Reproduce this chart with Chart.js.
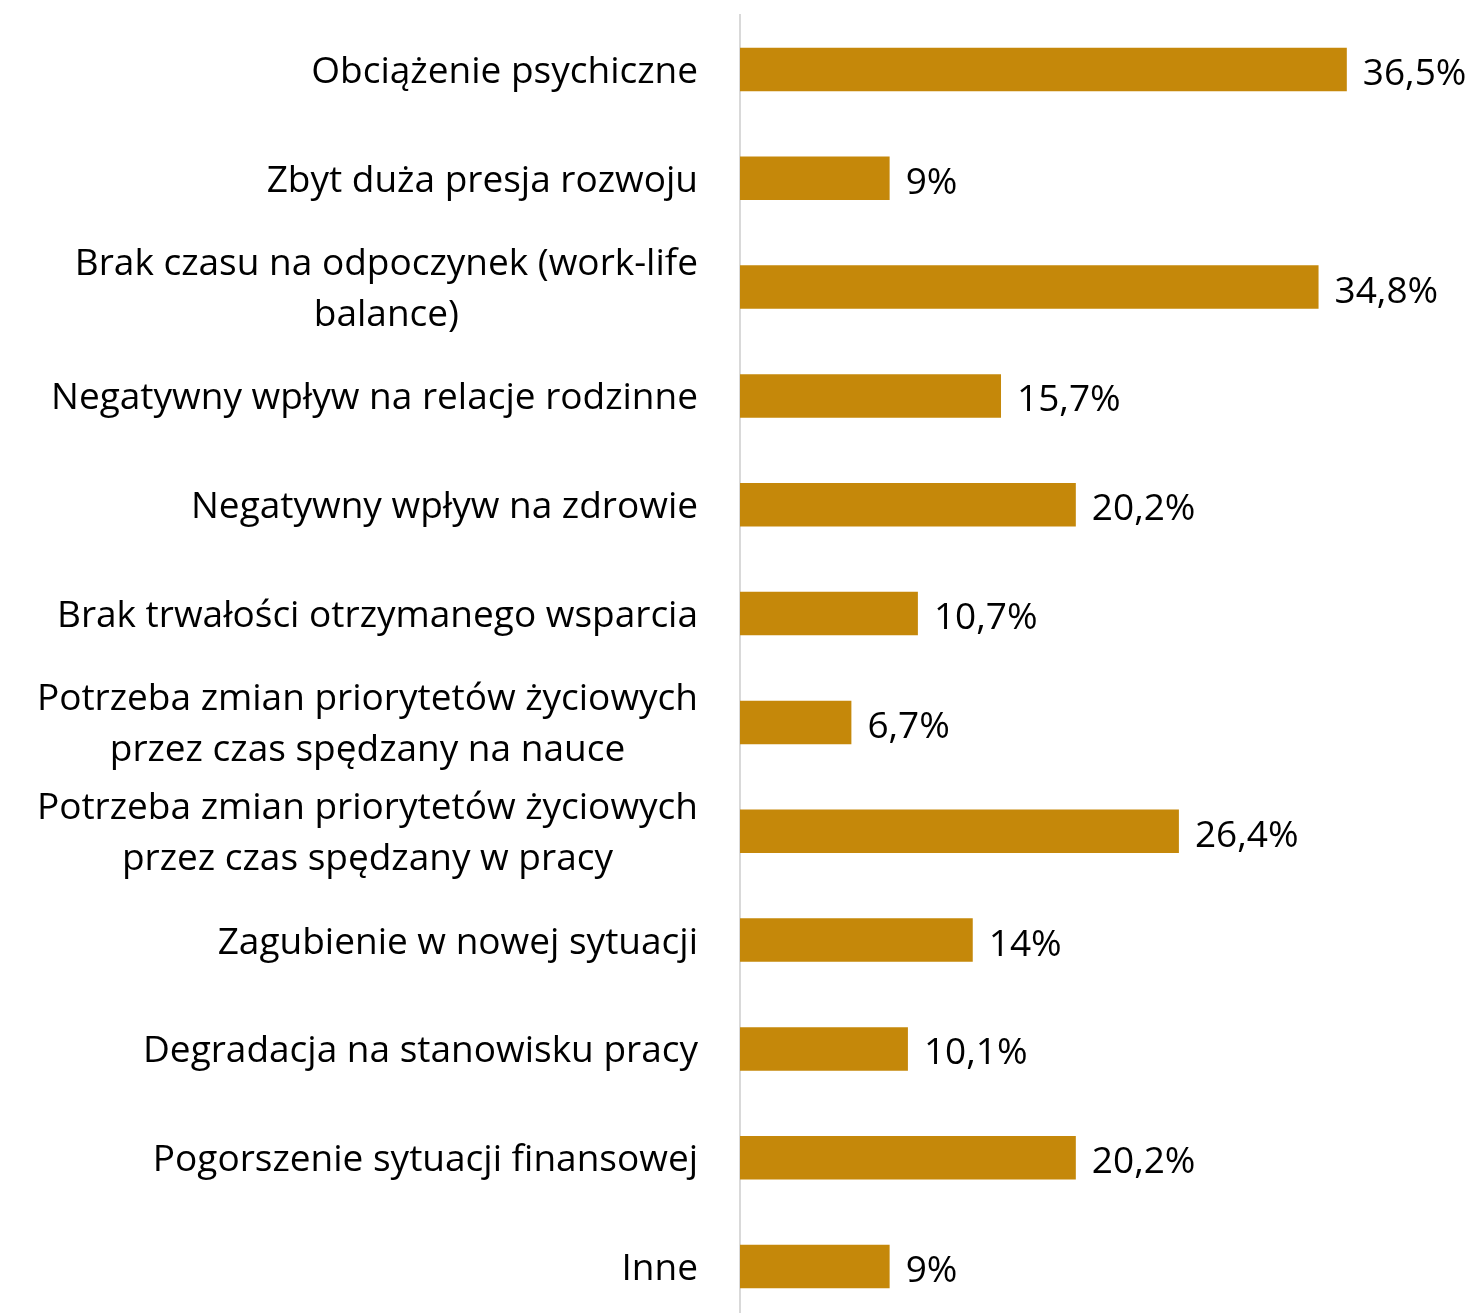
<!DOCTYPE html>
<html>
<head>
<meta charset="utf-8">
<script src="https://cdn.jsdelivr.net/npm/chart.js@4"></script>
<style>
  html, body { margin: 0; padding: 0; background: #fff; overflow: hidden; }
  #wrap { width: 1477px; height: 1322px; position: relative; }
</style>
</head>
<body>
<div id="wrap"><canvas id="chart"></canvas></div>
<script>
// Chart data
const categories = [
    ['Obciążenie psychiczne'],
    ['Zbyt duża presja rozwoju'],
    ['Brak czasu na odpoczynek (work-life', 'balance)'],
    ['Negatywny wpływ na relacje rodzinne'],
    ['Negatywny wpływ na zdrowie'],
    ['Brak trwałości otrzymanego wsparcia'],
    ['Potrzeba zmian priorytetów życiowych', 'przez czas spędzany na nauce'],
    ['Potrzeba zmian priorytetów życiowych', 'przez czas spędzany w pracy'],
    ['Zagubienie w nowej sytuacji'],
    ['Degradacja na stanowisku pracy'],
    ['Pogorszenie sytuacji finansowej'],
    ['Inne']
];
const values = [36.5, 9, 34.8, 15.7, 20.2, 10.7, 6.7, 26.4, 14, 10.1, 20.2, 9];

const FONT = '37px "Open Sans", sans-serif';
const barColor = '#C5880A';

// Category labels: block right-aligned, lines centred within the block
const categoryLabels = {
    id: 'categoryLabels',
    afterDraw(chart) {
        const ctx = chart.ctx;
        const yScale = chart.scales.y;
        const right = chart.chartArea.left - 42;
        const lineH = 51;
        ctx.save();
        ctx.font = FONT;
        ctx.fillStyle = '#000';
        ctx.textBaseline = 'middle';
        categories.forEach((lines, i) => {
            const cy = yScale.getPixelForValue(i) + 3;
            const widths = lines.map(l => ctx.measureText(l).width);
            const maxW = Math.max(...widths);
            const top = cy - (lines.length - 1) * lineH / 2;
            lines.forEach((line, j) => {
                ctx.textAlign = 'center';
                ctx.fillText(line, right - maxW / 2, top + j * lineH);
            });
        });
        ctx.restore();
    }
};

// Value labels at the end of each bar
const valueLabels = {
    id: 'valueLabels',
    afterDatasetsDraw(chart) {
        const ctx = chart.ctx;
        const meta = chart.getDatasetMeta(0);
        ctx.save();
        ctx.font = FONT;
        ctx.fillStyle = '#000';
        ctx.textAlign = 'left';
        ctx.textBaseline = 'middle';
        meta.data.forEach((bar, i) => {
            const txt = String(values[i]).replace('.', ',') + '%';
            ctx.fillText(txt, bar.x + 16, bar.y + 5);
        });
        ctx.restore();
    }
};

document.addEventListener('DOMContentLoaded', function() {
    new Chart(document.getElementById('chart'), {
        type: 'bar',
        data: {
            labels: categories.map(c => c.join(' ')),
            datasets: [{
                data: values,
                backgroundColor: barColor,
                borderWidth: 0,
                barPercentage: 0.4,
                categoryPercentage: 1
            }]
        },
        options: {
            indexAxis: 'y',
            responsive: true,
            maintainAspectRatio: false,
            animation: false,
            layout: { padding: { top: 15, bottom: 1, right: 72, left: 0 } },
            plugins: {
                legend: { display: false },
                tooltip: { enabled: false }
            },
            scales: {
                x: {
                    display: false,
                    min: 0,
                    max: 40
                },
                y: {
                    grid: { display: false, drawTicks: false },
                    border: { display: true, color: '#d9d9d9', width: 2 },
                    ticks: { display: false },
                    afterFit(scale) { scale.width = 740; }
                }
            }
        },
        plugins: [categoryLabels, valueLabels]
    });
});
</script>
</body>
</html>
